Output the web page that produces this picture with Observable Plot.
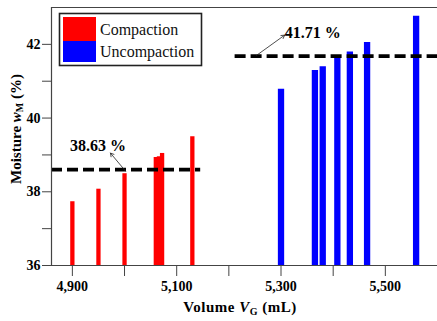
<!DOCTYPE html>
<html>
<head>
<meta charset="utf-8">
<script src="https://cdn.jsdelivr.net/npm/d3@7"></script>
<script src="https://cdn.jsdelivr.net/npm/@observablehq/plot@0.6"></script>
<style>
  body { margin: 0; background: #fff; }
  #chart svg { display: block; }
</style>
</head>
<body>
<div id="chart"></div>
<script>
const seriesNames = ["Compaction", "Uncompaction"];
const seriesColors = ["#ff0000", "#0000ff"];
const compactionVolume = [4900, 4950, 5000, 5060, 5066, 5072, 5130];
const compactionMoisture = [37.73, 38.07, 38.49, 38.93, 38.95, 39.04, 39.49];
const uncompactionVolume = [5300, 5365, 5380, 5408, 5432, 5465, 5559];
const uncompactionMoisture = [40.78, 41.29, 41.39, 41.68, 41.79, 42.05, 42.76];
const meanValues = [38.60, 41.68];
const meanLabels = ["38.63 %", "41.71 %"];
const meanRanges = [[4860, 5146], [5212, 5600]];
const xMajorTicks = [4900, 5100, 5300, 5500];
const xMinorTicks = [5000, 5200, 5400];
const yMajorTicks = [36, 38, 40, 42];
const yMinorTicks = [37, 39, 41];

const font = "'Liberation Serif', 'Times New Roman', serif";
const axisColor = "#444";

const comp = compactionVolume.map((v, i) => ({x: v, y: compactionMoisture[i]}));
const uncomp = uncompactionVolume.map((v, i) => ({x: v, y: uncompactionMoisture[i]}));
const means = meanValues.map((m, i) => ({y: m, x1: meanRanges[i][0], x2: meanRanges[i][1]}));
const notes = [
  {label: meanLabels[0], x: 4949, y: 39.24, ax1: 5002, ay1: 38.56, ax2: 4973, ay2: 39.05},
  {label: meanLabels[1], x: 5361, y: 42.30, ax1: 5253, ay1: 41.70, ax2: 5307, ay2: 42.25}
];

const plot = Plot.plot({
  width: 437,
  height: 321,
  marginLeft: 51,
  marginRight: 0,
  marginTop: 7,
  marginBottom: 56,
  style: {fontFamily: font, background: "#fff", color: "#000"},
  x: {domain: [4860, 5600]},
  y: {domain: [36, 43]},
  marks: [
    Plot.ruleX(comp, {x: "x", y1: 36, y2: "y", stroke: seriesColors[0], strokeWidth: 4.3}),
    Plot.ruleX(uncomp, {x: "x", y1: 36, y2: "y", stroke: seriesColors[1], strokeWidth: 6.3}),
    Plot.ruleY(means, {y: "y", x1: "x1", x2: "x2", stroke: "#000", strokeWidth: 3.8, strokeDasharray: "11,5"}),
    Plot.arrow(notes, {x1: "ax1", y1: "ay1", x2: "ax2", y2: "ay2", stroke: "#222", strokeWidth: 0.8, headLength: 7}),
    Plot.text(notes, {x: "x", y: "y", text: "label", fontSize: 16, fontWeight: "bold", fill: "#000"}),
    Plot.axisX({ticks: xMajorTicks, tickFormat: d3.format(","), tickSize: 11, tickPadding: 5, fontSize: 14, fontWeight: "bold", stroke: axisColor, label: null}),
    Plot.axisX({ticks: xMinorTicks, text: null, tickSize: 11, stroke: axisColor, label: null}),
    Plot.axisY({ticks: yMajorTicks, tickFormat: d3.format("d"), tickSize: 9, tickPadding: 2, fontSize: 14, fontWeight: "bold", stroke: axisColor, label: null}),
    Plot.axisY({ticks: yMinorTicks, text: null, tickSize: 9, stroke: axisColor, label: null}),
    Plot.ruleX([4860], {stroke: axisColor, strokeWidth: 1.2}),
    Plot.ruleY([36], {stroke: axisColor, strokeWidth: 1.2}),
    Plot.ruleY([43], {stroke: axisColor, strokeWidth: 1.2})
  ]
});

const svg = d3.select(plot);

// Axis labels with italic symbols and subscripts
const yl = svg.append("text")
  .attr("transform", "translate(18,129) rotate(-90)")
  .attr("text-anchor", "middle")
  .attr("dominant-baseline", "middle")
  .attr("font-family", font).attr("font-size", 15).attr("font-weight", "bold").attr("fill", "#000");
yl.append("tspan").text("Moisture ");
yl.append("tspan").attr("font-style", "italic").text("w");
yl.append("tspan").attr("font-size", 10).attr("dy", 3).text("M");
yl.append("tspan").attr("dy", -3).text(" (%)");

const xl = svg.append("text")
  .attr("x", 240).attr("y", 312)
  .attr("text-anchor", "middle")
  .attr("font-family", font).attr("font-size", 15).attr("font-weight", "bold").attr("fill", "#000")
  .attr("letter-spacing", 0.5);
xl.append("tspan").text("Volume ");
xl.append("tspan").attr("font-style", "italic").text("V");
xl.append("tspan").attr("font-size", 10).attr("dy", 3).text("G");
xl.append("tspan").attr("dy", -3).text(" (mL)");

// Legend inside the plot
const lg = svg.append("g");
lg.append("rect").attr("x", 59.5).attr("y", 13.5).attr("width", 142).attr("height", 52)
  .attr("fill", "#fff").attr("stroke", "#222").attr("stroke-width", 1.6);
const swY = [17, 41], swH = [24, 21], txtY = [35, 57];
seriesNames.forEach((name, i) => {
  lg.append("rect").attr("x", 63).attr("y", swY[i]).attr("width", 33).attr("height", swH[i]).attr("fill", seriesColors[i]);
  lg.append("text").attr("x", 100).attr("y", txtY[i]).attr("text-anchor", "start")
    .attr("font-family", font).attr("font-size", 16).attr("fill", "#111").text(name);
});

document.getElementById("chart").appendChild(plot);
</script>
</body>
</html>
